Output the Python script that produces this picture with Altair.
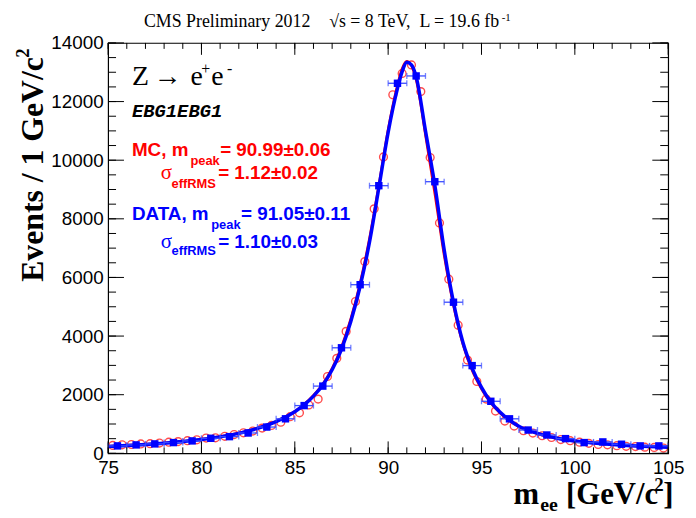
import altair as alt
import pandas as pd

# ---------------- data ----------------
# DATA: 1 GeV bins (bin centres) and events
data_mass = [75.5, 76.5, 77.5, 78.5, 79.5, 80.5, 81.5, 82.5, 83.5, 84.5,
             85.5, 86.5, 87.5, 88.5, 89.5, 90.5, 91.5, 92.5, 93.5, 94.5,
             95.5, 96.5, 97.5, 98.5, 99.5, 100.5, 101.5, 102.5, 103.5, 104.5]
data_events = [253, 287, 321, 366, 423, 513, 569, 693, 896, 1177,
               1628, 2293, 3600, 5752, 9130, 12624, 12874, 9266, 5155, 2992,
               1775, 1177, 794, 625, 501, 366, 389, 310, 253, 253]

# MC: 0.5 GeV bins (bin centres), normalised to events / 1 GeV
mc_mass = [75.25, 75.75, 76.25, 76.75, 77.25, 77.75, 78.25, 78.75, 79.25, 79.75,
           80.25, 80.75, 81.25, 81.75, 82.25, 82.75, 83.25, 83.75, 84.25, 84.75,
           85.25, 85.75, 86.25, 86.75, 87.25, 87.75, 88.25, 88.75, 89.25, 89.75,
           90.25, 90.75, 91.25, 91.75, 92.25, 92.75, 93.25, 93.75, 94.25, 94.75,
           95.25, 95.75, 96.25, 96.75, 97.25, 97.75, 98.25, 98.75, 99.25, 99.75,
           100.25, 100.75, 101.25, 101.75, 102.25, 102.75, 103.25, 103.75, 104.25, 104.75]
mc_events = [270, 290, 300, 320, 330, 350, 380, 400, 430, 460,
             520, 530, 580, 640, 700, 760, 860, 950, 1060, 1250,
             1380, 1650, 1850, 2620, 3240, 4160, 5180, 6540, 8340, 10110,
             12230, 12960, 13250, 12340, 10090, 7860, 5940, 4370, 3180, 2450,
             1850, 1440, 1100, 930, 770, 690, 600, 540, 470, 430,
             380, 340, 300, 290, 260, 240, 230, 210, 200, 180]

# fitted line shapes
fit_mass = [75, 76, 77, 78, 79, 80, 81, 82, 83, 84, 85, 85.5, 86, 86.5, 87, 87.5,
            88, 88.5, 89, 89.5, 90, 90.5, 90.75, 91, 91.25, 91.5, 92, 92.5, 93,
            93.5, 94, 94.5, 95, 95.5, 96, 96.5, 97, 98, 99, 100, 101, 102, 103, 104, 105]
fit_data = [230, 265, 300, 345, 400, 470, 560, 680, 850, 1080, 1420, 1650, 1950, 2330, 2850, 3550,
            4500, 5700, 7200, 9050, 10950, 12450, 13020, 13340, 13250, 12850, 11000, 9150, 6950,
            5150, 3800, 2900, 2250, 1750, 1400, 1130, 920, 680, 520, 420, 350, 300, 260, 230, 210]
fit_mc = [250, 280, 315, 360, 415, 490, 580, 700, 870, 1100, 1440, 1680, 1990, 2380, 2920, 3650,
          4620, 5850, 7380, 9200, 11100, 12600, 13150, 13380, 13200, 12700, 10800, 8800, 6700,
          5000, 3700, 2800, 2180, 1700, 1360, 1100, 900, 660, 505, 405, 340, 290, 250, 225, 200]

x_labels = [75, 80, 85, 90, 95, 100, 105]
x_minor = [75, 76, 77, 78, 79, 80, 81, 82, 83, 84, 85, 86, 87, 88, 89, 90,
           91, 92, 93, 94, 95, 96, 97, 98, 99, 100, 101, 102, 103, 104, 105]
y_labels = [0, 2000, 4000, 6000, 8000, 10000, 12000, 14000]
y_minor = [0, 500, 1000, 1500, 2000, 2500, 3000, 3500, 4000, 4500, 5000, 5500, 6000,
           6500, 7000, 7500, 8000, 8500, 9000, 9500, 10000, 10500, 11000, 11500,
           12000, 12500, 13000, 13500, 14000]

W, H = 565, 414
RED = "#ff0000"
BLUE = "#0000ff"
ERR = "#3a4cff"
SANS = "Liberation Sans"
SERIF = "Liberation Serif"
NB = "\u00a0"

xs = alt.Scale(domain=[75, 105], nice=False, zero=False)
ys = alt.Scale(domain=[0, 14000], nice=False, zero=False)

xaxis = alt.Axis(values=x_labels, format="d", ticks=False, domain=False, grid=False, title=None,
                 labelFont=SANS, labelFontSize=19, labelColor="black", labelPadding=5,
                 labelFlush=False, labelOverlap=False)
yaxis = alt.Axis(values=y_labels, format="d", ticks=False, domain=False, grid=False, title=None,
                 labelFont=SANS, labelFontSize=19, labelColor="black", labelPadding=5,
                 labelFlush=False, labelOverlap=False)


def X(field):
    return alt.X(field, type="quantitative", scale=xs, axis=xaxis)


def Y(field):
    return alt.Y(field, type="quantitative", scale=ys, axis=yaxis)


df_data = pd.DataFrame({"m": data_mass, "ev": data_events})
df_data["lo"] = df_data["m"] - 0.5
df_data["hi"] = df_data["m"] + 0.5
df_mc = pd.DataFrame({"m": mc_mass, "ev": mc_events})
df_fit = pd.DataFrame({"m": fit_mass, "d": fit_data, "mc": fit_mc})

mc_points = alt.Chart(df_mc).mark_point(shape="circle", filled=False, color=RED,
                                        size=62, strokeWidth=1.4).encode(x=X("m"), y=Y("ev"))

mc_line = alt.Chart(df_fit).mark_line(color=RED, strokeWidth=2, interpolate="monotone").encode(
    x=X("m"), y=Y("mc"))

data_line = alt.Chart(df_fit).mark_line(color=BLUE, strokeWidth=3.5, interpolate="monotone").encode(
    x=X("m"), y=Y("d"))

err = alt.Chart(df_data).mark_rule(color=ERR, strokeWidth=1.3).encode(
    x=X("lo"), x2="hi:Q", y=Y("ev"))
cap_lo = alt.Chart(df_data).mark_tick(color=ERR, orient="vertical", size=6, thickness=1.3).encode(
    x=X("lo"), y=Y("ev"))
cap_hi = alt.Chart(df_data).mark_tick(color=ERR, orient="vertical", size=6, thickness=1.3).encode(
    x=X("hi"), y=Y("ev"))

data_pts = alt.Chart(df_data).mark_point(shape="square", filled=True, color=BLUE, size=56,
                                         opacity=1).encode(x=X("m"), y=Y("ev"))

# ---- inward tick marks on all four sides ----
df_xmaj = pd.DataFrame({"t": x_labels})
df_xmin = pd.DataFrame({"t": x_minor})
df_ymaj = pd.DataFrame({"t": y_labels})
df_ymin = pd.DataFrame({"t": y_minor})


def xticks(df, length):
    b = alt.Chart(df).mark_rule(color="black", strokeWidth=1).encode(
        x=X("t"), y=alt.value(H), y2=alt.value(H - length))
    t = alt.Chart(df).mark_rule(color="black", strokeWidth=1).encode(
        x=X("t"), y=alt.value(0), y2=alt.value(length))
    return [b, t]


def yticks(df, length):
    l = alt.Chart(df).mark_rule(color="black", strokeWidth=1).encode(
        y=Y("t"), x=alt.value(0), x2=alt.value(length))
    r = alt.Chart(df).mark_rule(color="black", strokeWidth=1).encode(
        y=Y("t"), x=alt.value(W), x2=alt.value(W - length))
    return [l, r]


tick_layers = xticks(df_xmaj, 12) + xticks(df_xmin, 6) + yticks(df_ymaj, 16) + yticks(df_ymin, 8)

# ---- text helpers ----
ONE = alt.Data(values=[{"a": 1}])


def txt(s, x, y, size, color="black", font=SANS, weight="normal", style="normal",
        align="left", angle=0):
    kw = dict(text=s, font=font, fontSize=size, color=color, fontWeight=weight,
              fontStyle=style, align=align, baseline="alphabetic")
    if angle:
        kw["angle"] = angle
    return alt.Chart(ONE).mark_text(**kw).encode(x=alt.value(x), y=alt.value(y))


texts = [
    # header
    txt("CMS Preliminary 2012", 204, -16, 18, font=SERIF, align="right"),
    txt("\u221as = 8 TeV," + NB + NB + "L = 19.6 fb", 223, -16, 18, font=SERIF),
    txt("-1", 397, -22, 11, font=SERIF),
    # process label
    txt("Z", 24, 42, 28, font=SERIF),
    txt("\u2192", 46, 42, 28, font=SERIF),
    txt("e", 83, 42, 28, font=SERIF),
    txt("+", 94, 31, 16, font=SERIF),
    txt("e", 104, 42, 28, font=SERIF),
    txt("-", 120, 31, 16, font=SERIF),
    txt("EBG1EBG1", 24, 75, 19, font="Liberation Mono", weight="bold", style="italic"),
    # MC numbers
    txt("MC, m", 24, 114, 19, color=RED, weight="bold"),
    txt("peak", 83, 123, 13, color=RED, weight="bold"),
    txt("= 90.99\u00b10.06", 113, 114, 19, color=RED, weight="bold"),
    txt("\u03c3", 53, 137, 21, color=RED, font=SERIF),
    txt("effRMS", 64, 146, 13, color=RED, weight="bold"),
    txt("= 1.12\u00b10.02", 111, 137, 19, color=RED, weight="bold"),
    # DATA numbers
    txt("DATA, m", 24, 179, 19, color=BLUE, weight="bold"),
    txt("peak", 104, 188, 13, color=BLUE, weight="bold"),
    txt("= 91.05\u00b10.11", 134, 179, 19, color=BLUE, weight="bold"),
    txt("\u03c3", 53, 207, 21, color=BLUE, font=SERIF),
    txt("effRMS", 64, 214, 13, color=BLUE, weight="bold"),
    txt("= 1.10\u00b10.03", 111, 207, 19, color=BLUE, weight="bold"),
    # x title
    txt("m", 409, 465, 31, font=SERIF, weight="bold"),
    txt("ee", 436, 472, 20, font=SERIF, weight="bold"),
    txt("[GeV/c", 462, 465, 31, font=SERIF, weight="bold"),
    txt("2", 551, 452, 19, font=SERIF, weight="bold"),
    txt("]", 560, 465, 31, font=SERIF, weight="bold"),
    # y title (rotated)
    txt("Events / 1 GeV/c", -66, 241, 32, font=SERIF, weight="bold", angle=270),
    txt("2", -80, 15, 19, font=SERIF, weight="bold", angle=270),
]

chart = alt.layer(
    mc_points, mc_line, data_line, err, cap_lo, cap_hi, data_pts,
    *tick_layers, *texts
).properties(
    width=W, height=H,
    autosize=alt.AutoSizeParams(type="none"),
    padding={"left": 101, "top": 33, "right": 20, "bottom": 62},
).configure_view(stroke="black", strokeWidth=1.2)

chart.save("out.html", embed_options={"renderer": "svg", "actions": False})
